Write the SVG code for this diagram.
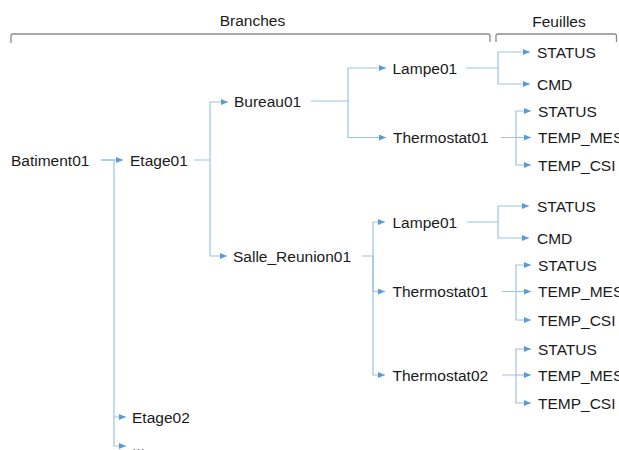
<svg xmlns="http://www.w3.org/2000/svg" width="619" height="450" viewBox="0 0 619 450">
<style>
text{font-family:"Liberation Sans",Arial,sans-serif;font-size:15.5px;fill:#1a1a1a}
.h{text-anchor:middle}
.br{fill:none;stroke:#8a8a8a;stroke-width:1.3}
.c{fill:none;stroke:#9dc3e6;stroke-width:1.2;marker-end:url(#a)}
</style>
<defs>
<marker id="a" markerUnits="userSpaceOnUse" markerWidth="8" markerHeight="6" viewBox="0 0 8 6" refX="7" refY="3" orient="auto">
<path d="M0,0 L7,3 L0,6 Z" fill="#5b9bd5"/>
</marker>
</defs>
<rect width="619" height="450" fill="#ffffff"/>
<g id="headers">
<text class="h" x="252.5" y="26">Branches</text>
<text class="h" x="559" y="26.5">Feuilles</text>
<path class="br" d="M11,43 V36 Q11,34 13,34 H488 Q490,34 490,36 V42"/>
<path class="br" d="M496,42 V36 Q496,34 498,34 H614.5 Q616.5,34 616.5,36 V42"/>
</g>
<g id="connectors">
<path class="c" d="M101,160 H123"/>
<path class="c" d="M101,160 H114 V417 H126"/>
<path class="c" d="M114,417 V446 H126"/>
<path class="c" d="M194,160 H210 V102 H228"/>
<path class="c" d="M210,160 V256 H227"/>
<path class="c" d="M311,101 H348 V68 H386"/>
<path class="c" d="M348,101 V137.5 H386"/>
<path class="c" d="M466,68 H498 V52 H530"/>
<path class="c" d="M498,68 V84 H530"/>
<path class="c" d="M501,137.5 H516 V111 H531"/>
<path class="c" d="M516,137.5 H531"/>
<path class="c" d="M516,137.5 V165 H531"/>
<path class="c" d="M362,256 H373 V222 H385"/>
<path class="c" d="M373,256 V291.5 H385"/>
<path class="c" d="M373,256 V375 H385"/>
<path class="c" d="M467,222 H498 V206 H529"/>
<path class="c" d="M498,222 V238 H529"/>
<path class="c" d="M502,291.5 H516 V265 H531"/>
<path class="c" d="M516,291.5 H531"/>
<path class="c" d="M516,291.5 V320 H531"/>
<path class="c" d="M502,375 H516 V349 H531"/>
<path class="c" d="M516,375 H531"/>
<path class="c" d="M516,375 V403 H531"/>
</g>
<g id="n-batiment01"><text x="11" y="165.5">Batiment01</text></g>
<g id="n-etage01"><text x="130" y="165.5">Etage01</text></g>
<g id="n-etage02"><text x="132" y="422.5">Etage02</text></g>
<g id="n-more"><text x="132" y="451">...</text></g>
<g id="n-bureau01"><text x="234" y="107">Bureau01</text></g>
<g id="n-salle"><text x="233" y="261.5">Salle_Reunion01</text></g>
<g id="n-b-lampe01"><text x="392.5" y="73.5">Lampe01</text></g>
<g id="n-b-thermo01"><text x="393" y="143">Thermostat01</text></g>
<g id="n-b-l-status"><text x="537" y="57.5">STATUS</text></g>
<g id="n-b-l-cmd"><text x="537" y="89.5">CMD</text></g>
<g id="n-b-t-status"><text x="538" y="116.5">STATUS</text></g>
<g id="n-b-t-mes"><text x="538" y="143">TEMP_MES</text></g>
<g id="n-b-t-csi"><text x="538" y="170.5">TEMP_CSI</text></g>
<g id="n-s-lampe01"><text x="392.5" y="227.5">Lampe01</text></g>
<g id="n-s-thermo01"><text x="392.5" y="297">Thermostat01</text></g>
<g id="n-s-thermo02"><text x="392.5" y="380.5">Thermostat02</text></g>
<g id="n-s-l-status"><text x="537" y="211.5">STATUS</text></g>
<g id="n-s-l-cmd"><text x="537" y="243.5">CMD</text></g>
<g id="n-s-t1-status"><text x="538" y="270.5">STATUS</text></g>
<g id="n-s-t1-mes"><text x="538" y="297">TEMP_MES</text></g>
<g id="n-s-t1-csi"><text x="538" y="325.5">TEMP_CSI</text></g>
<g id="n-s-t2-status"><text x="538" y="354.5">STATUS</text></g>
<g id="n-s-t2-mes"><text x="538" y="380.5">TEMP_MES</text></g>
<g id="n-s-t2-csi"><text x="538" y="408.5">TEMP_CSI</text></g>
</svg>
